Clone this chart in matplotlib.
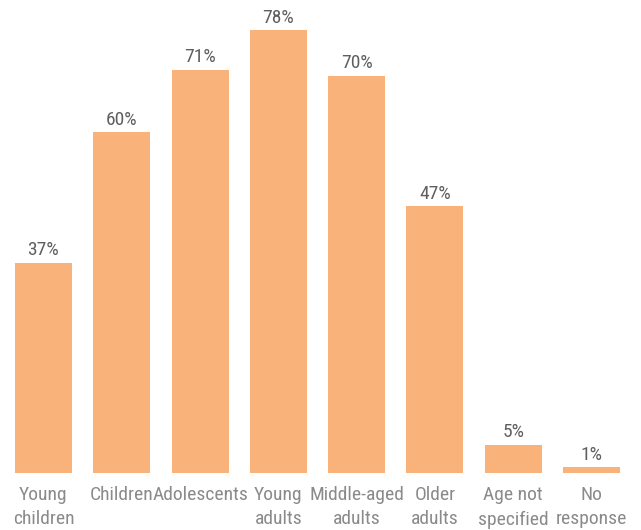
import matplotlib
matplotlib.use("Agg")
import matplotlib.pyplot as plt
from matplotlib import font_manager

categories = ["Young\nchildren", "Children", "Adolescents", "Young\nadults",
              "Middle-aged\nadults", "Older\nadults", "Age not\nspecified", "No\nresponse"]
values = [37, 60, 71, 78, 70, 47, 5, 1]
value_labels = ["37%", "60%", "71%", "78%", "70%", "47%", "5%", "1%"]

installed = {f.name for f in font_manager.fontManager.ttflist}
family = [f for f in ["Roboto Condensed", "Liberation Sans Narrow", "Roboto", "DejaVu Sans"] if f in installed]
plt.rcParams["font.family"] = family

bar_color = "#F9B27A"

fig = plt.figure(figsize=(6.41, 5.30), dpi=100)
ax = fig.add_axes([15 / 641, 57 / 530, 605 / 641, 473 / 530])

x = list(range(len(values)))
bars = ax.bar(x, values, width=0.728, color=bar_color)

for b, lab in zip(bars, value_labels):
    ax.annotate(lab, (b.get_x() + b.get_width() / 2, b.get_height()),
                xytext=(0, 2.5), textcoords="offset points",
                ha="center", va="bottom", fontsize=14, color="#5f5f5f")

ax.set_xlim(-0.364, len(values) - 1 + 0.364)
ax.set_ylim(0, 83.3)
ax.set_xticks(x)
ax.set_xticklabels(categories, fontsize=14, color="#8a8a8a", linespacing=1.45)
ax.tick_params(axis="x", length=0, pad=9.5)
ax.set_yticks([])
for s in ax.spines.values():
    s.set_visible(False)

fig.savefig("out.png", dpi=100)
